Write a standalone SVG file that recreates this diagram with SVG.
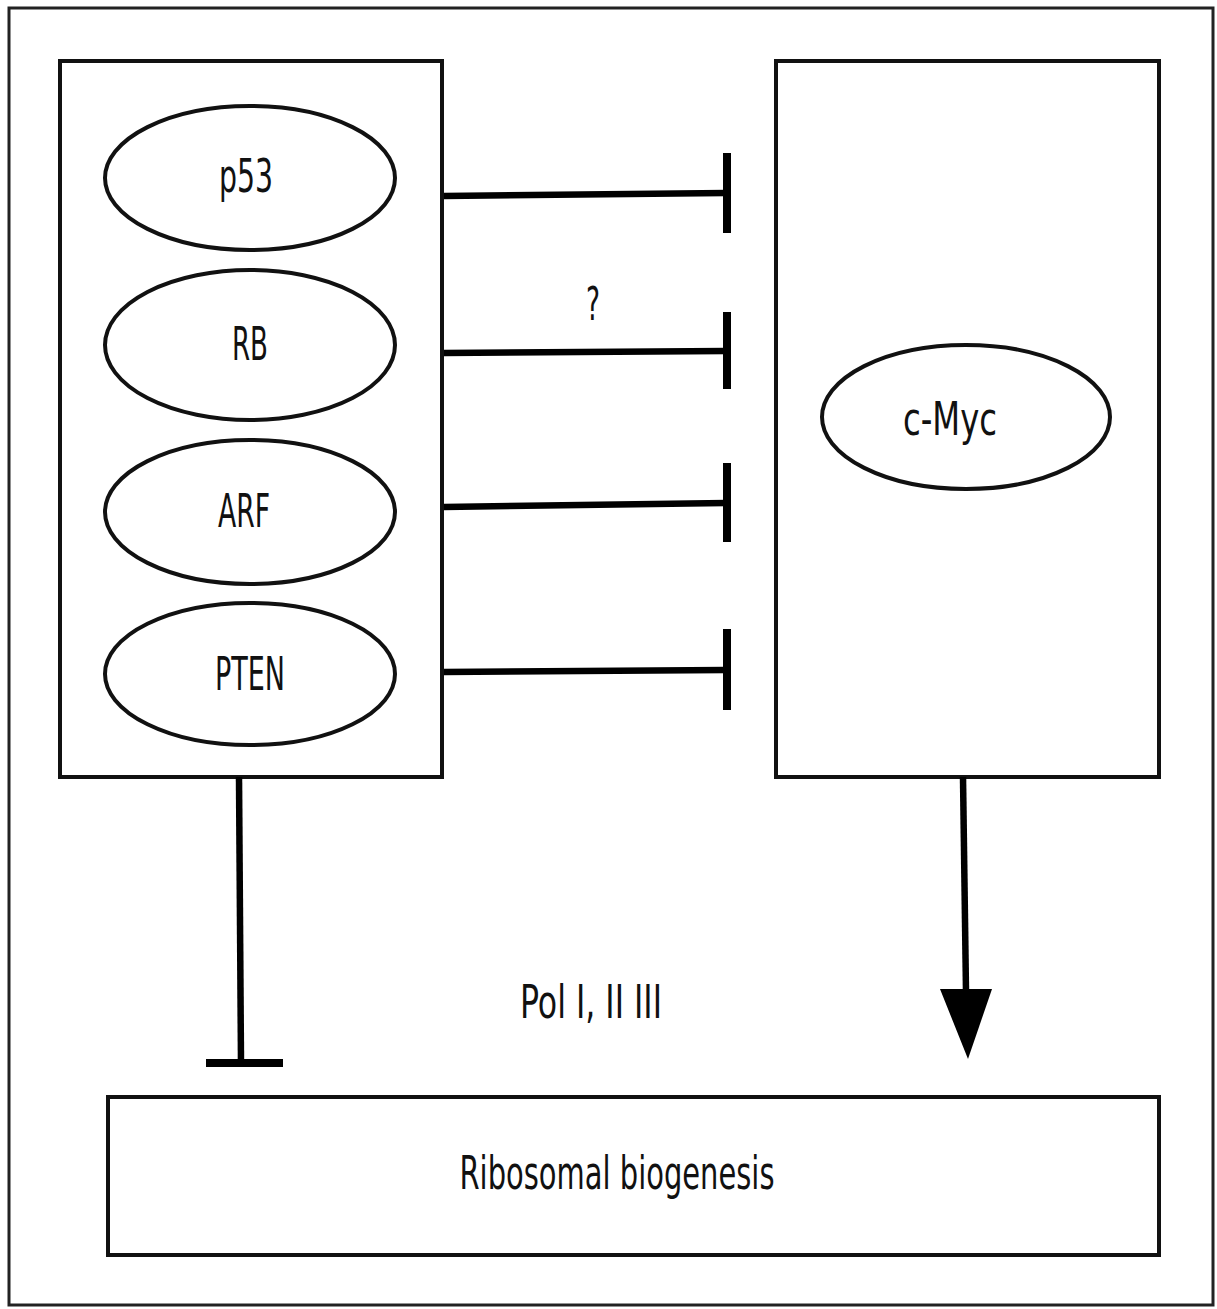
<svg xmlns="http://www.w3.org/2000/svg" width="1217" height="1309" viewBox="0 0 1217 1309">
<style>
.box{fill:none;stroke:#111;stroke-width:4}
.ell{fill:#fff;stroke:#111;stroke-width:4}
.lbl{font-family:"Liberation Sans Narrow","DejaVu Sans Condensed","Liberation Sans",sans-serif;font-size:46px;fill:#111;text-anchor:middle}
.con{stroke:#000;stroke-width:6.5;fill:none}
.bar{stroke:#000;stroke-width:8;fill:none}
</style>
<rect width="1217" height="1309" fill="#fff"/>
<rect id="frame" x="9" y="8" width="1204" height="1297" fill="none" stroke="#222" stroke-width="3"/>
<g id="left-box"><rect class="box" x="60" y="61" width="382" height="716"/></g>
<g id="right-box"><rect class="box" x="776" y="61" width="383" height="716"/></g>
<g id="p53"><ellipse class="ell" cx="250" cy="178" rx="145" ry="72"/><text class="lbl" x="246" y="192" textLength="54" lengthAdjust="spacingAndGlyphs">p53</text></g>
<g id="RB"><ellipse class="ell" cx="250" cy="345" rx="145" ry="75"/><text class="lbl" x="250" y="360" textLength="36" lengthAdjust="spacingAndGlyphs">RB</text></g>
<g id="ARF"><ellipse class="ell" cx="250" cy="512" rx="145" ry="72"/><text class="lbl" x="244" y="527" textLength="52" lengthAdjust="spacingAndGlyphs">ARF</text></g>
<g id="PTEN"><ellipse class="ell" cx="250" cy="674" rx="145" ry="71"/><text class="lbl" x="250" y="690" textLength="70" lengthAdjust="spacingAndGlyphs">PTEN</text></g>
<g id="c-Myc"><ellipse class="ell" cx="966" cy="417" rx="144" ry="72"/><text class="lbl" x="950" y="435" textLength="94" lengthAdjust="spacingAndGlyphs">c-Myc</text></g>
<g id="ribosomal"><rect class="box" x="108" y="1097" width="1051" height="158"/><text class="lbl" x="617" y="1189" textLength="315" lengthAdjust="spacingAndGlyphs">Ribosomal biogenesis</text></g>
<g id="connectors">
<line class="con" x1="444" y1="196" x2="726" y2="193"/><line class="bar" x1="727" y1="153" x2="727" y2="233"/>
<line class="con" x1="444" y1="353" x2="726" y2="351"/><line class="bar" x1="727" y1="312" x2="727" y2="389"/>
<line class="con" x1="444" y1="507" x2="726" y2="503"/><line class="bar" x1="727" y1="463" x2="727" y2="542"/>
<line class="con" x1="444" y1="672" x2="726" y2="670"/><line class="bar" x1="727" y1="629" x2="727" y2="710"/>
<line class="con" x1="239" y1="777" x2="241" y2="1063"/><line class="bar" x1="206" y1="1063" x2="283" y2="1063"/>
<line class="con" x1="963" y1="777" x2="966" y2="992"/><polygon points="940,989 992,989 968,1059" fill="#000"/>
<text class="lbl" x="593" y="320" font-size="40" textLength="14" lengthAdjust="spacingAndGlyphs">?</text>
<text class="lbl" x="591" y="1018" textLength="142" lengthAdjust="spacingAndGlyphs">Pol I, II III</text>
</g>
</svg>
